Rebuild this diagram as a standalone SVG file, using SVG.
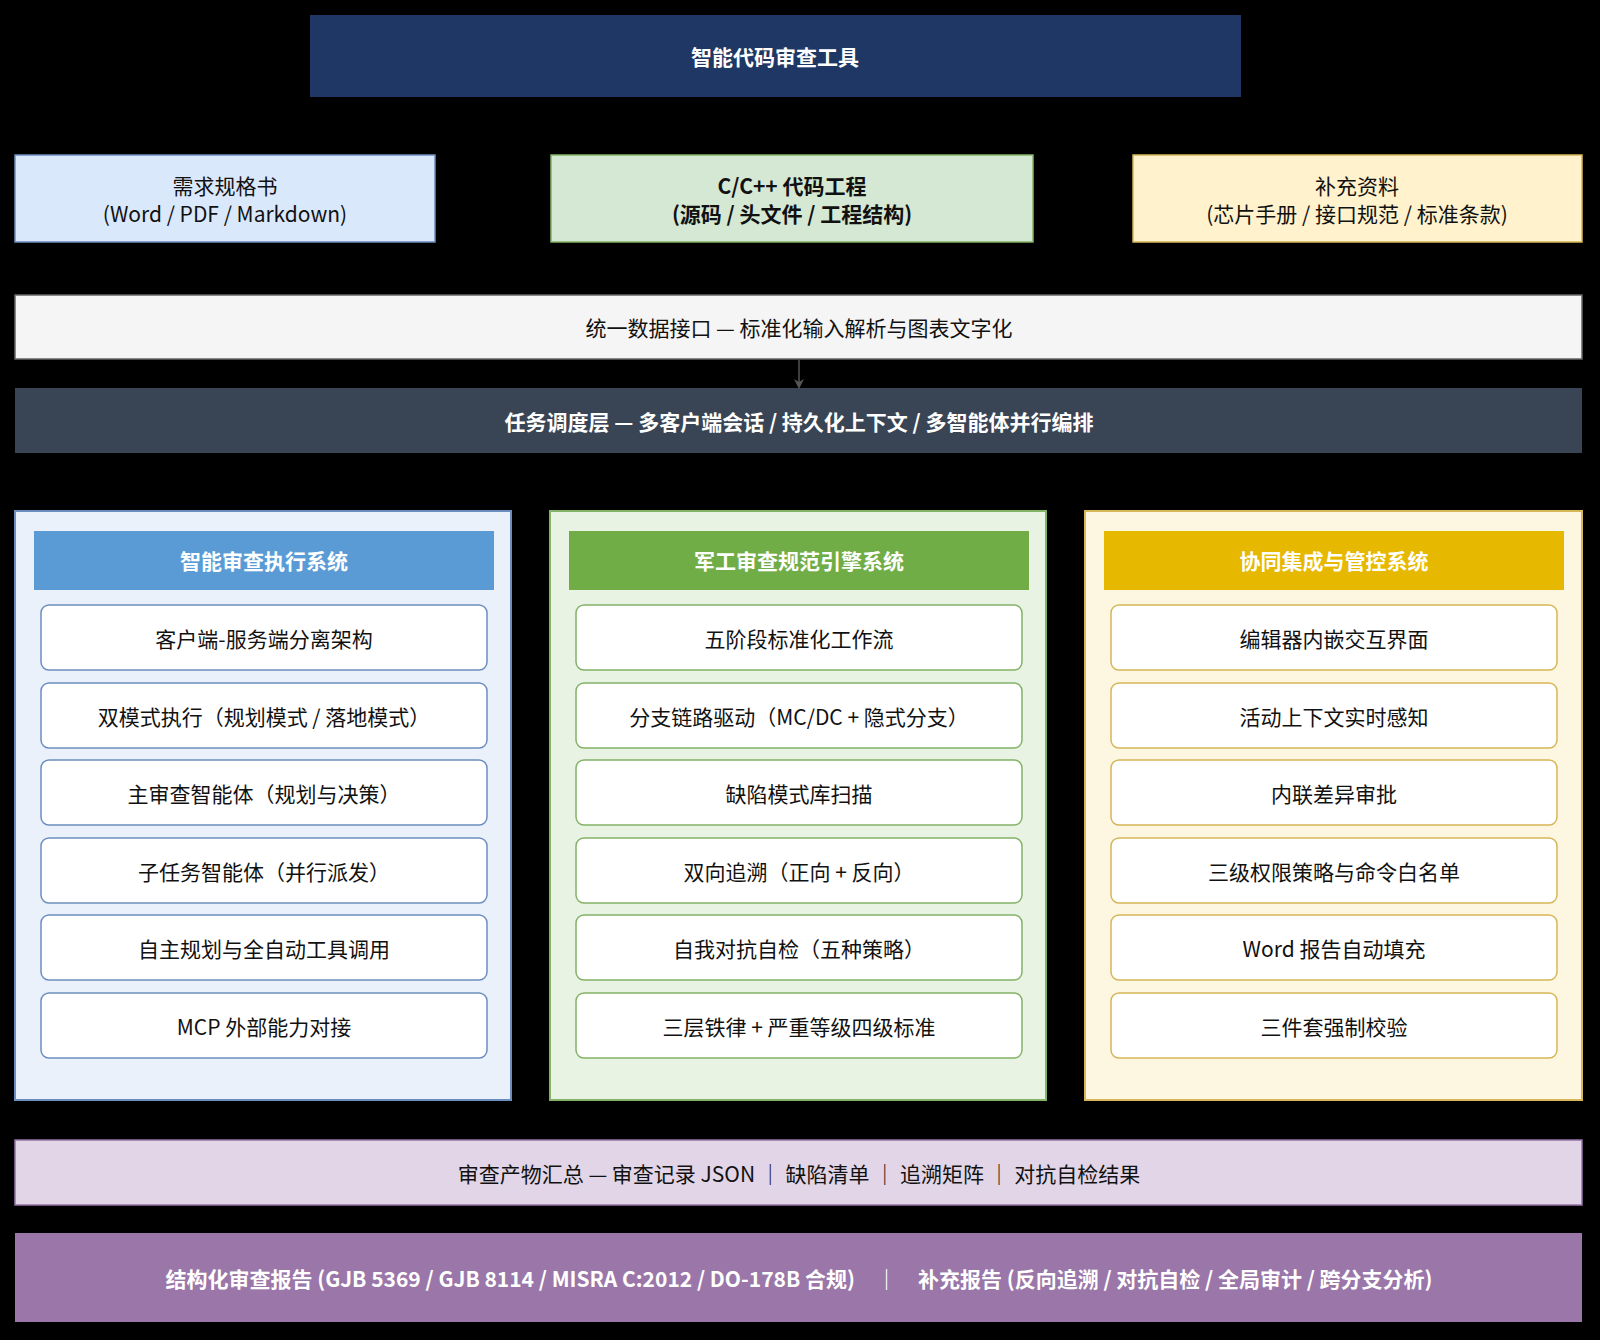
<svg xmlns="http://www.w3.org/2000/svg" width="1600" height="1340" viewBox="0 0 1600 1340">
<style>
text{font-family:"Noto Sans CJK SC","Liberation Sans",sans-serif;font-size:21px;text-anchor:middle;dominant-baseline:central;fill:#111}
.w{fill:#fff;font-weight:bold}
.b{font-weight:bold}
.i1{fill:#fff;stroke:#6c8ebf;stroke-width:1.5}
.i2{fill:#fff;stroke:#82b366;stroke-width:1.5}
.i3{fill:#fff;stroke:#d6b656;stroke-width:1.5}
</style>
<defs><marker id="ah" markerWidth="10" markerHeight="10" refX="8" refY="5" orient="auto" markerUnits="userSpaceOnUse"><path d="M0,0 L10,5 L0,10 L3,5 Z" fill="#555"/></marker></defs>
<rect width="1600" height="1340" fill="#000"/>
<g id="title"><rect x="310" y="15" width="931" height="82" fill="#1e3765"/><text x="775" y="56" class="w">智能代码审查工具</text></g>
<g id="in1"><rect x="15" y="155" width="420" height="87" fill="#dae8fc" stroke="#6c8ebf" stroke-width="1.5"/><text x="225" y="185">需求规格书</text><text x="225" y="213">(Word / PDF / Markdown)</text></g>
<g id="in2"><rect x="551" y="155" width="482" height="87" fill="#d5e8d4" stroke="#82b366" stroke-width="1.5"/><text x="792" y="185" class="b">C/C++ 代码工程</text><text x="792" y="213" class="b">(源码 / 头文件 / 工程结构)</text></g>
<g id="in3"><rect x="1133" y="155" width="449" height="87" fill="#fff2cc" stroke="#d6b656" stroke-width="1.5"/><text x="1357" y="185">补充资料</text><text x="1357" y="213">(芯片手册 / 接口规范 / 标准条款)</text></g>
<g id="unified"><rect x="15" y="295" width="1567" height="64" fill="#f5f5f5" stroke="#666" stroke-width="1.5"/><text x="799" y="327">统一数据接口 — 标准化输入解析与图表文字化</text></g>
<g id="sched"><rect x="15" y="388" width="1567" height="65" fill="#394555"/><text x="799" y="421" class="w">任务调度层 — 多客户端会话 / 持久化上下文 / 多智能体并行编排</text></g>
<g id="col1"><rect x="15" y="511" width="496" height="589" fill="#eaf1fb" stroke="#6c8ebf" stroke-width="2"/><rect x="34" y="531" width="460" height="59" fill="#5b9bd5"/><text x="264" y="560" class="w">智能审查执行系统</text>
<rect class="i1" x="41" y="605" width="446" height="65" rx="8"/><text x="264" y="638">客户端-服务端分离架构</text>
<rect class="i1" x="41" y="683" width="446" height="65" rx="8"/><text x="264" y="716">双模式执行（规划模式 / 落地模式）</text>
<rect class="i1" x="41" y="760" width="446" height="65" rx="8"/><text x="264" y="793">主审查智能体（规划与决策）</text>
<rect class="i1" x="41" y="838" width="446" height="65" rx="8"/><text x="264" y="871">子任务智能体（并行派发）</text>
<rect class="i1" x="41" y="915" width="446" height="65" rx="8"/><text x="264" y="948">自主规划与全自动工具调用</text>
<rect class="i1" x="41" y="993" width="446" height="65" rx="8"/><text x="264" y="1026">MCP 外部能力对接</text></g>
<g id="col2"><rect x="550" y="511" width="496" height="589" fill="#e9f3e4" stroke="#82b366" stroke-width="2"/><rect x="569" y="531" width="460" height="59" fill="#70ad47"/><text x="799" y="560" class="w">军工审查规范引擎系统</text>
<rect class="i2" x="576" y="605" width="446" height="65" rx="8"/><text x="799" y="638">五阶段标准化工作流</text>
<rect class="i2" x="576" y="683" width="446" height="65" rx="8"/><text x="799" y="716">分支链路驱动（MC/DC + 隐式分支）</text>
<rect class="i2" x="576" y="760" width="446" height="65" rx="8"/><text x="799" y="793">缺陷模式库扫描</text>
<rect class="i2" x="576" y="838" width="446" height="65" rx="8"/><text x="799" y="871">双向追溯（正向 + 反向）</text>
<rect class="i2" x="576" y="915" width="446" height="65" rx="8"/><text x="799" y="948">自我对抗自检（五种策略）</text>
<rect class="i2" x="576" y="993" width="446" height="65" rx="8"/><text x="799" y="1026">三层铁律 + 严重等级四级标准</text></g>
<g id="col3"><rect x="1085" y="511" width="497" height="589" fill="#fdf6e1" stroke="#d6b656" stroke-width="2"/><rect x="1104" y="531" width="460" height="59" fill="#e6b800"/><text x="1334" y="560" class="w">协同集成与管控系统</text>
<rect class="i3" x="1111" y="605" width="446" height="65" rx="8"/><text x="1334" y="638">编辑器内嵌交互界面</text>
<rect class="i3" x="1111" y="683" width="446" height="65" rx="8"/><text x="1334" y="716">活动上下文实时感知</text>
<rect class="i3" x="1111" y="760" width="446" height="65" rx="8"/><text x="1334" y="793">内联差异审批</text>
<rect class="i3" x="1111" y="838" width="446" height="65" rx="8"/><text x="1334" y="871">三级权限策略与命令白名单</text>
<rect class="i3" x="1111" y="915" width="446" height="65" rx="8"/><text x="1334" y="948">Word 报告自动填充</text>
<rect class="i3" x="1111" y="993" width="446" height="65" rx="8"/><text x="1334" y="1026">三件套强制校验</text></g>
<g id="summary"><rect x="15" y="1140" width="1567" height="65" fill="#e1d5e7" stroke="#9673a6" stroke-width="1.5"/><text x="799" y="1173">审查产物汇总 — 审查记录 JSON ｜ 缺陷清单 ｜ 追溯矩阵 ｜ 对抗自检结果</text></g>
<g id="report"><rect x="15" y="1233" width="1567" height="89" fill="#9a77a8"/><text x="799" y="1278" class="w">结构化审查报告 (GJB 5369 / GJB 8114 / MISRA C:2012 / DO-178B 合规)　｜　补充报告 (反向追溯 / 对抗自检 / 全局审计 / 跨分支分析)</text></g>
<g id="connectors"><line x1="799" y1="360" x2="799" y2="387" stroke="#555" stroke-width="1.5" marker-end="url(#ah)"/></g>
</svg>
